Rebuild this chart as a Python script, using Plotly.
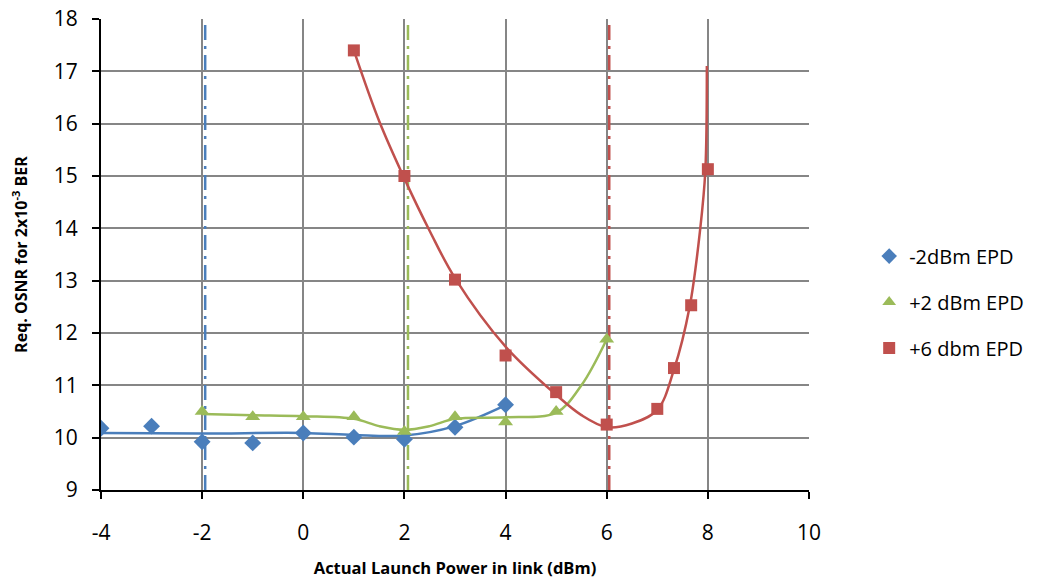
import plotly.graph_objects as go

# Measured points
x_blue = [-4, -3, -2, -1, 0, 1, 2, 3, 4]
y_blue = [10.18, 10.22, 9.92, 9.90, 10.09, 10.01, 9.97, 10.20, 10.63]

x_green = [-2, -1, 0, 1, 2, 3, 4, 5, 6]
y_green = [10.50, 10.40, 10.40, 10.40, 10.12, 10.40, 10.30, 10.50, 11.88]

x_red = [1, 2, 3, 4, 5, 6, 7, 7.33, 7.67, 8]
y_red = [17.40, 15.00, 13.02, 11.57, 10.87, 10.25, 10.55, 11.33, 12.53, 15.13]

# Trend curves
tx_blue = [-4, -2, 0, 1, 2, 3, 4]
ty_blue = [10.09, 10.08, 10.09, 10.05, 10.04, 10.22, 10.62]

tx_green = [-2, -1, 0, 1, 1.5, 2, 2.5, 3, 4, 5, 5.5, 6]
ty_green = [10.45, 10.43, 10.41, 10.36, 10.22, 10.15, 10.22, 10.36, 10.39, 10.48, 11.0, 11.88]

tx_red = [1, 1.5, 2, 2.5, 3, 4, 5, 5.5, 6, 6.5, 7, 7.33, 7.64, 7.85, 7.95, 7.98]
ty_red = [17.40, 16.05, 14.95, 13.95, 13.05, 11.74, 10.82, 10.43, 10.20, 10.27, 10.53, 11.30, 12.50, 14.00, 15.10, 17.10]

# Reference (EPD) vertical lines
v_x = [-1.94, 2.07, 6.05]
v_colors = ["#4A7EBB", "#9BBB59", "#C0504D"]

# Tick labels
x_tickvals = [-4, -2, 0, 2, 4, 6, 8, 10]
x_ticktext = ["-4", "-2", "0", "2", "4", "6", "8", "10"]

names = ["-2dBm EPD", "+2 dBm EPD", "+6 dbm EPD"]
colors = ["#4A7EBB", "#9BBB59", "#C0504D"]
symbols = ["diamond", "triangle-up", "square"]

fig = go.Figure()

for vx, c in zip(v_x, v_colors):
    fig.add_trace(go.Scatter(x=[vx, vx], y=[9, 18], mode="lines",
                             line=dict(color=c, width=2.5, dash="longdashdot"),
                             showlegend=False, hoverinfo="skip"))

for tx, ty, c in [(tx_blue, ty_blue, colors[0]), (tx_green, ty_green, colors[1]), (tx_red, ty_red, colors[2])]:
    fig.add_trace(go.Scatter(x=tx, y=ty, mode="lines",
                             line=dict(color=c, width=2.5, shape="spline", smoothing=1.0),
                             showlegend=False, hoverinfo="skip"))

for (xs, ys), n, c, s in zip([(x_blue, y_blue), (x_green, y_green), (x_red, y_red)], names, colors, symbols):
    fig.add_trace(go.Scatter(x=xs, y=ys, mode="markers", name=n, legendgroup=n,
                             marker=dict(color=c, symbol=s, size=13 if s != "square" else 12,
                                         line=dict(width=0))))

font = "Open Sans, Noto Sans, sans-serif"
fig.update_layout(
    width=1046, height=582,
    margin=dict(l=101, r=237, t=19, b=92),
    paper_bgcolor="white", plot_bgcolor="white",
    font=dict(family=font, color="black"),
    legend=dict(x=1.085, y=0.538, xanchor="left", yanchor="top",
                font=dict(size=20, family=font), tracegroupgap=17,
                itemsizing="constant"),
    xaxis=dict(range=[-4, 10], tickvals=x_tickvals, ticktext=x_ticktext, automargin=False,
               showgrid=True, gridcolor="#868686", gridwidth=2,
               showline=True, linecolor="black", linewidth=2, ticks="outside", ticklen=7,
               tickwidth=2, tickcolor="black", zeroline=False, tickfont=dict(size=21),
               ticklabelstandoff=16,
               title=dict(text="<b>Actual Launch Power in link (dBm)</b>", font=dict(size=16.5), standoff=17)),
    yaxis=dict(range=[9, 18], dtick=1, automargin=False,
               showgrid=True, gridcolor="#868686", gridwidth=2,
               showline=True, linecolor="black", linewidth=2, ticks="outside", ticklen=7,
               tickwidth=2, tickcolor="black", zeroline=False, tickfont=dict(size=21),
               ticklabelstandoff=10,
               title=dict(text="<b>Req. OSNR for 2x10<sup>-3</sup> BER</b>", font=dict(size=16), standoff=22)),
)

fig.write_html("out.html")
